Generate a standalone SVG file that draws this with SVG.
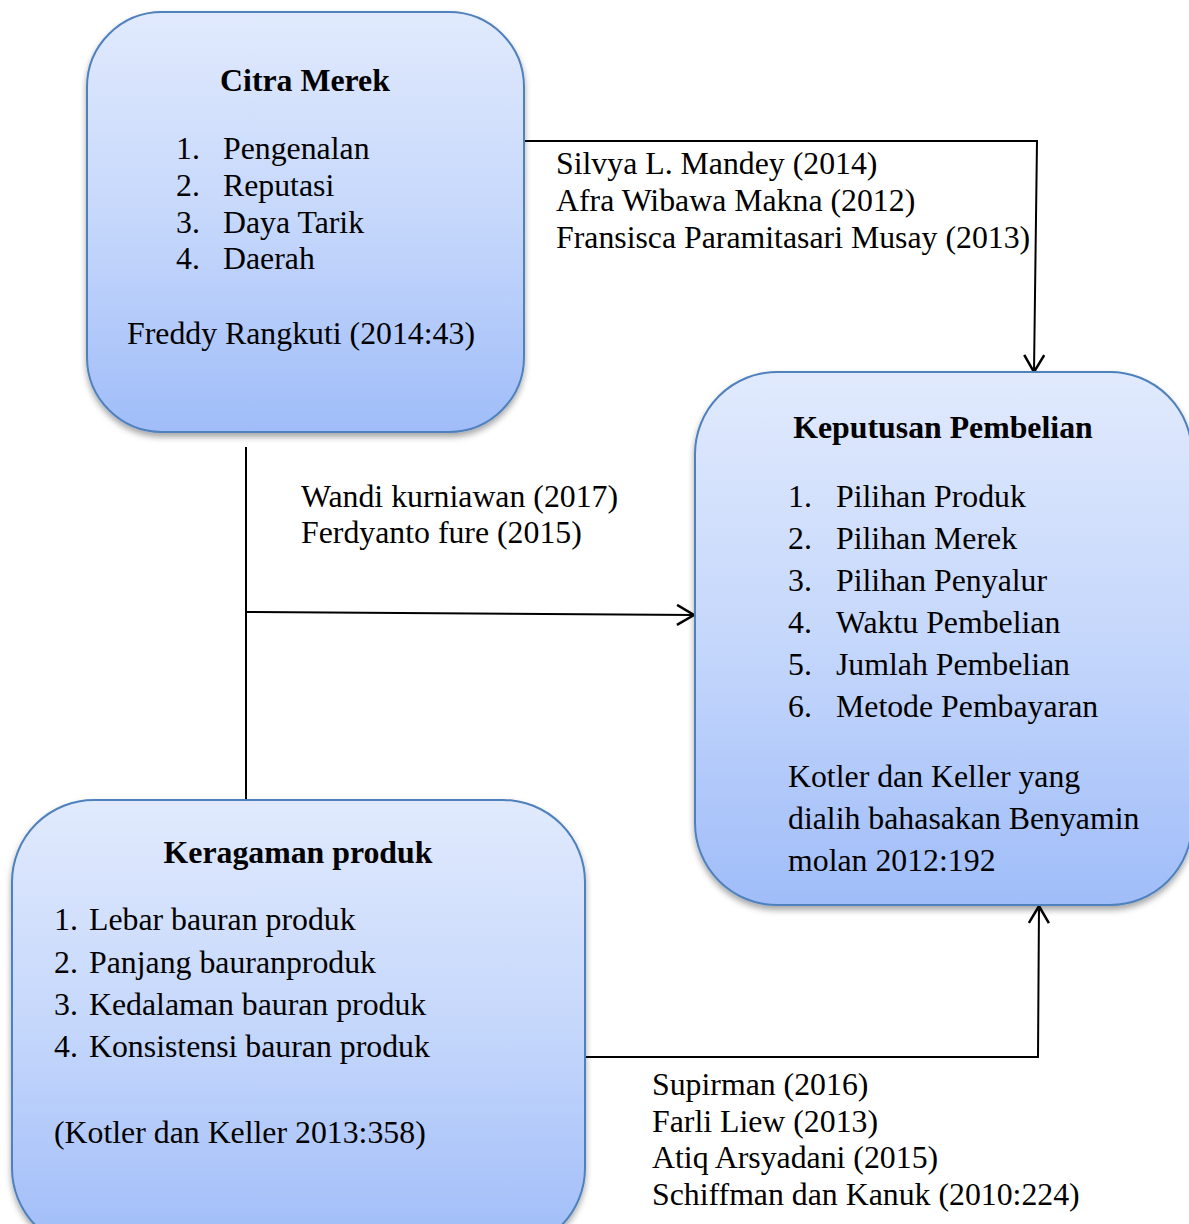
<svg xmlns="http://www.w3.org/2000/svg" width="1189" height="1224" viewBox="0 0 1189 1224">
<style>
.t{font-family:"Liberation Serif","Times New Roman",serif;font-size:31.8px;fill:#000}
.b{font-weight:bold}
.box{fill:url(#g);stroke:#4f81bd;stroke-width:2;filter:url(#sh)}
.c{fill:none;stroke:#000;stroke-width:2}
</style>
<defs>
<linearGradient id="g" x1="0" y1="0" x2="0" y2="1">
<stop offset="0" stop-color="#e1eafd"/>
<stop offset="0.5" stop-color="#c5d7fb"/>
<stop offset="1" stop-color="#a0bdf9"/>
</linearGradient>
<filter id="sh" x="-10%" y="-10%" width="120%" height="125%">
<feDropShadow dx="0" dy="4" stdDeviation="3" flood-color="#000" flood-opacity="0.35"/>
</filter>
<marker id="ar" markerUnits="userSpaceOnUse" markerWidth="22" markerHeight="24" refX="18" refY="11" orient="auto" viewBox="0 0 22 24">
<path d="M1,1 L18,11 L1,21" fill="none" stroke="#000" stroke-width="2.5"/>
</marker>
</defs>
<g id="connectors">
<polyline class="c" points="524,141 1037,141 1034,372" marker-end="url(#ar)"/>
<line class="c" x1="246" y1="447" x2="246" y2="800"/>
<line class="c" x1="246" y1="612" x2="694" y2="615" marker-end="url(#ar)"/>
<polyline class="c" points="585,1057 1038,1057 1039,906" marker-end="url(#ar)"/>
</g>
<g id="citra-merek">
<rect class="box" x="87" y="12" width="437" height="420" rx="75" ry="75"/>
<text class="t b" x="305" y="91" text-anchor="middle">Citra Merek</text>
<text class="t" x="176" y="159">1.</text><text class="t" x="223" y="159">Pengenalan</text>
<text class="t" x="176" y="196">2.</text><text class="t" x="223" y="196">Reputasi</text>
<text class="t" x="176" y="233">3.</text><text class="t" x="223" y="233">Daya Tarik</text>
<text class="t" x="176" y="269">4.</text><text class="t" x="223" y="269">Daerah</text>
<text class="t" x="127" y="344">Freddy Rangkuti (2014:43)</text>
</g>
<g id="keputusan-pembelian">
<rect class="box" x="695" y="372" width="497" height="533" rx="82" ry="82"/>
<text class="t b" x="943" y="438" text-anchor="middle">Keputusan Pembelian</text>
<text class="t" x="788" y="507">1.</text><text class="t" x="836" y="507">Pilihan Produk</text>
<text class="t" x="788" y="549">2.</text><text class="t" x="836" y="549">Pilihan Merek</text>
<text class="t" x="788" y="591">3.</text><text class="t" x="836" y="591">Pilihan Penyalur</text>
<text class="t" x="788" y="633">4.</text><text class="t" x="836" y="633">Waktu Pembelian</text>
<text class="t" x="788" y="675">5.</text><text class="t" x="836" y="675">Jumlah Pembelian</text>
<text class="t" x="788" y="717">6.</text><text class="t" x="836" y="717">Metode Pembayaran</text>
<text class="t" x="788" y="787">Kotler dan Keller yang</text>
<text class="t" x="788" y="829">dialih bahasakan Benyamin</text>
<text class="t" x="788" y="871">molan 2012:192</text>
</g>
<g id="keragaman-produk">
<rect class="box" x="12" y="800" width="573" height="450" rx="82" ry="82"/>
<text class="t b" x="298" y="863" text-anchor="middle">Keragaman produk</text>
<text class="t" x="54" y="930">1.</text><text class="t" x="89" y="930">Lebar bauran produk</text>
<text class="t" x="54" y="973">2.</text><text class="t" x="89" y="973">Panjang bauranproduk</text>
<text class="t" x="54" y="1015">3.</text><text class="t" x="89" y="1015">Kedalaman bauran produk</text>
<text class="t" x="54" y="1057">4.</text><text class="t" x="89" y="1057">Konsistensi bauran produk</text>
<text class="t" x="54" y="1143">(Kotler dan Keller 2013:358)</text>
</g>
<g id="labels">
<text class="t" x="556" y="174">Silvya L. Mandey (2014)</text>
<text class="t" x="556" y="211">Afra Wibawa Makna (2012)</text>
<text class="t" x="556" y="248">Fransisca Paramitasari Musay (2013)</text>
<text class="t" x="301" y="507">Wandi kurniawan (2017)</text>
<text class="t" x="301" y="543">Ferdyanto fure (2015)</text>
<text class="t" x="652" y="1095">Supirman (2016)</text>
<text class="t" x="652" y="1132">Farli Liew (2013)</text>
<text class="t" x="652" y="1168">Atiq Arsyadani (2015)</text>
<text class="t" x="652" y="1205">Schiffman dan Kanuk (2010:224)</text>
</g>
</svg>
